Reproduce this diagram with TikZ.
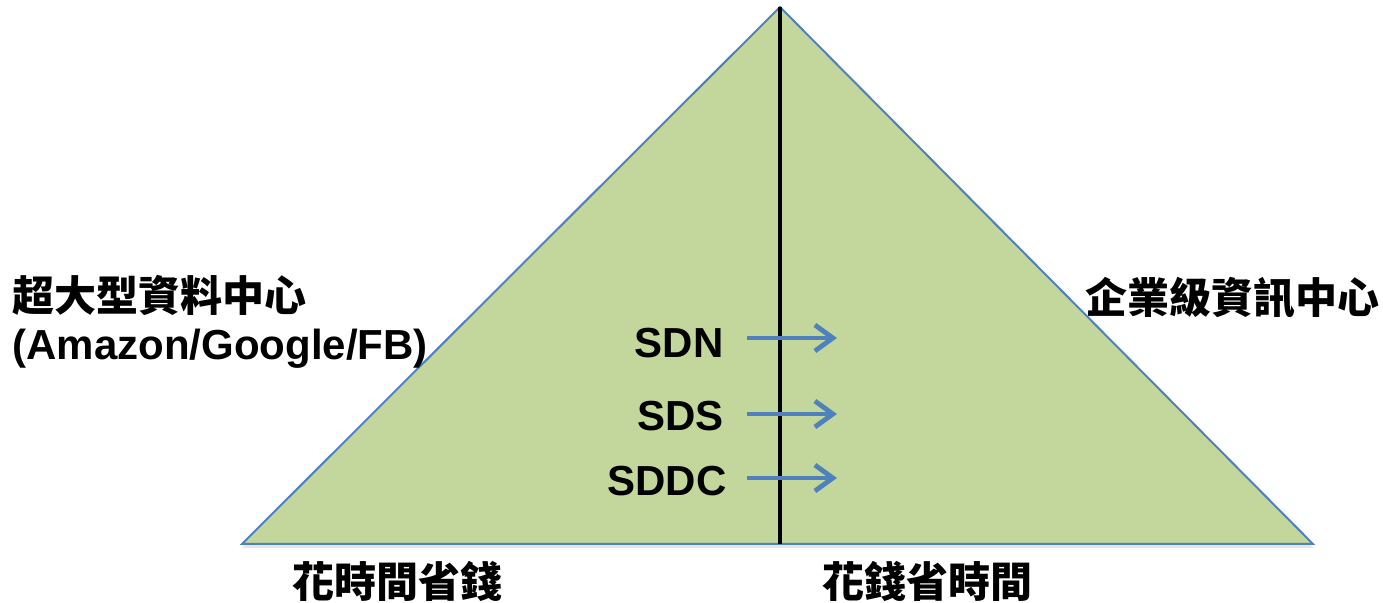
\documentclass[tikz,border=0pt]{standalone}
\usepackage{fontspec}
\setmainfont{Liberation Sans}
\newfontfamily\cjk{Noto Sans CJK TC}
\usetikzlibrary{arrows.meta,positioning,shadows}
\definecolor{olive}{HTML}{C3D69B}
\definecolor{steel}{HTML}{4F81BD}
\tikzset{sdx/.style={font=\bfseries\fontsize{21}{25}\selectfont, inner sep=0pt, anchor=east}}
\tikzset{han/.style={font=\cjk\bfseries\fontsize{21}{25}\selectfont, inner sep=0pt, anchor=west}}
\tikzset{latin/.style={font=\bfseries\fontsize{21}{25}\selectfont, inner sep=0pt, anchor=base west}}
\tikzset{push/.style={draw=steel, line width=2.4pt, -{Straight Barb[length=9pt,width=13pt]}}}
\tikzset{hill/.style={draw=steel, line width=1pt, fill=olive, line join=miter,
 drop shadow={shadow xshift=0pt, shadow yshift=-2pt, opacity=.2}}}

\begin{document}
\begin{tikzpicture}[x=0.5pt, y=-0.5pt]
        \useasboundingbox (0,0) rectangle (1383,603);
        \coordinate (top) at (780,7);
        \coordinate (bl)  at (242,544);
        \coordinate (br)  at (1313,544);
        \coordinate (mid) at (780,544);

        \path[hill] (top) -- (br) -- (bl) -- cycle;
        \draw[line width=2.4pt] (top) -- (mid);

        \node[han]   (hyper) at (12,295) {超大型資料中心};
        \node[latin] (giants) at (12,360) {(Amazon/Google/FB)};
        \node[han]   (corp) at (1085,298) {企業級資訊中心};
        \node[han]   (slow) at (292,581) {花時間省錢};
        \node[han]   (fast) at (822,581) {花錢省時間};

        \node[sdx] (sdn)  at (724,343) {SDN};
        \node[sdx] (sds)  at (724,416) {SDS};
        \node[sdx] (sddc) at (727,481) {SDDC};

        \coordinate (sdn0)  at (747,338);  \coordinate (sdn1)  at (837,338);
        \coordinate (sds0)  at (747,414);  \coordinate (sds1)  at (837,414);
        \coordinate (sddc0) at (747,478);  \coordinate (sddc1) at (837,478);

        \path[push] (sdn0)  -- (sdn1);
        \path[push] (sds0)  -- (sds1);
        \path[push] (sddc0) -- (sddc1);
      \end{tikzpicture}
\end{document}
